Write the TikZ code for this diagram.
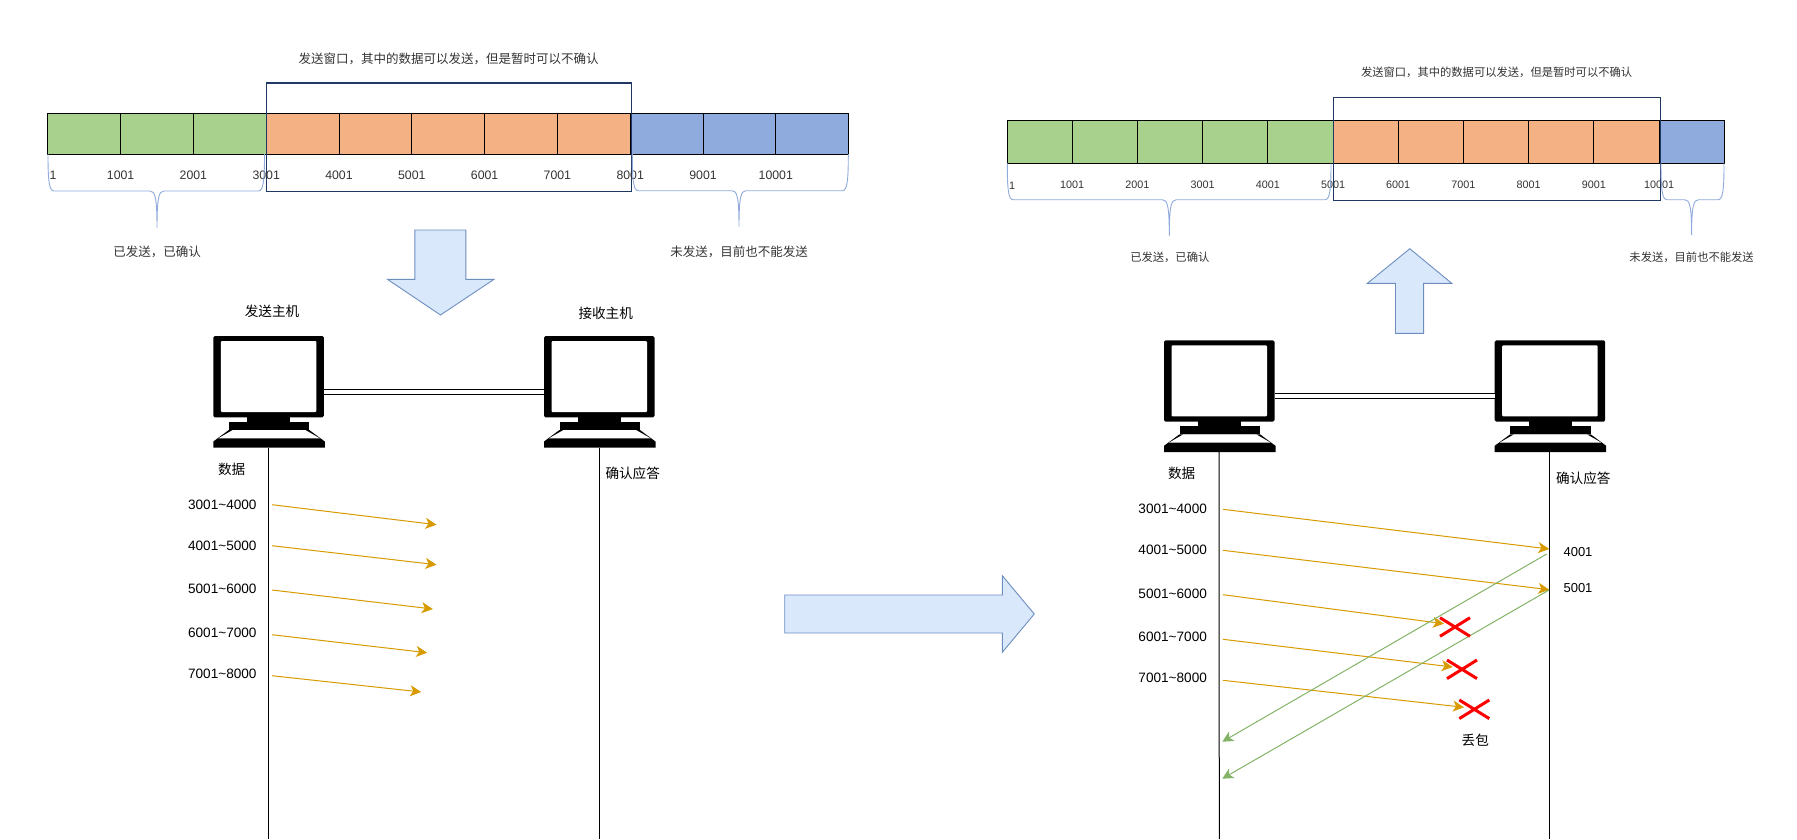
\documentclass[tikz,border=0pt]{standalone}
\usepackage{fontspec}
\setmainfont{Liberation Sans}
\newfontfamily\cjk{Noto Sans CJK SC}
\usetikzlibrary{arrows.meta}
\definecolor{gcell}{HTML}{A9D18E}
\definecolor{ocell}{HTML}{F4B183}
\definecolor{bcell}{HTML}{8FAADC}
\definecolor{winline}{HTML}{203864}
\definecolor{bline}{HTML}{8FAADC}
\definecolor{bigfill}{HTML}{DAE8FC}
\definecolor{bigline}{HTML}{6C8EBF}
\definecolor{sendline}{HTML}{D79B00}
\definecolor{ackline}{HTML}{82B366}
\definecolor{softtext}{HTML}{333333}
\newcommand{\fsz}[1]{\fontsize{#1}{#1}\selectfont}
\newcommand{\bracket}[6]{% x0 x1 xtip y0 y1 ytip
  \draw[bracestyle] (#1,#4) .. controls (#1,#4+26) and (#1+1,#5) .. (#1+6,#5)
    -- (#3-7,#5) .. controls (#3-2,#5) and (#3,#5+6) .. (#3,#6)
    .. controls (#3,#5+6) and (#3+2,#5) .. (#3+7,#5)
    -- (#2-6,#5) .. controls (#2-1,#5) and (#2,#4+26) .. (#2,#4);}
\tikzset{
  x=1pt,y=-1pt,
  cell/.style={draw=black,line width=0.9pt,anchor=north west,inner sep=0pt,outer sep=0pt},
  cellA/.style={cell,minimum width=72.8pt,minimum height=40.7pt},
  cellB/.style={cell,minimum width=65.2pt,minimum height=42.6pt},
  window/.style={draw=winline,line width=1.3pt,anchor=north west,inner sep=0pt},
  bracestyle/.style={draw=bline,line width=0.9pt},
  bigarrow/.style={draw=bigline,fill=bigfill,line width=0.9pt,line join=miter},
  numA/.style={text=softtext,font=\fsz{12.3},inner sep=0pt},
  numB/.style={text=softtext,font=\fsz{10.8},inner sep=0pt},
  capA/.style={text=softtext,font=\cjk\fsz{12.5},inner sep=0pt},
  capB/.style={text=softtext,font=\cjk\fsz{11.3},inner sep=0pt},
  lab/.style={text=black,font=\cjk\fsz{13.6},inner sep=0pt},
  seq/.style={text=black,font=\fsz{13.6},inner sep=0pt},
  life/.style={draw=black,line width=1pt},
  link/.style={draw=black,double=white,double distance=3.8pt,line width=1pt},
  send/.style={draw=sendline,line width=1pt,-{Stealth[length=11pt,width=11pt,inset=3pt]}},
  ack/.style={draw=ackline,line width=1pt,-{Stealth[length=11pt,width=11pt,inset=3pt]}},
  lost/.style={draw=red,line width=3pt},
  computer/.pic={
    \fill[black,rounded corners=1.5pt] (0,0) rectangle (110.5,81.3);
    \fill[white,rounded corners=1pt] (7.5,5) rectangle (103,76);
    \fill[black] (34,81) rectangle (77,86);
    \fill[black] (15.5,86) rectangle (96,94);
    \fill[black] (15.5,94) -- (96,94) -- (111.5,105.5) -- (111.5,111.7) -- (0,111.7) -- (0,105.5) -- cycle;
    \fill[white] (19.5,94) -- (92,94) -- (106.5,102.3) -- (5,102.3) -- cycle;
    \coordinate (-linkout) at (110.5,56);
    \coordinate (-linkin) at (0,56);
    \coordinate (-foot) at (55,111.7);
  }
}
\begin{document}
\begin{tikzpicture}
\useasboundingbox (0,0) rectangle (1797,839);
% ---------- left strip
\foreach \i/\c in {0/gcell,1/gcell,2/gcell,3/ocell,4/ocell,5/ocell,6/ocell,7/ocell,8/bcell,9/bcell,10/bcell}{
  \node[cellA,fill=\c] (a\i) at ({47.8+72.8*\i},113.3) {};
}
\node[window,minimum width=365pt,minimum height=108.6pt] (winA) at (265.7,82.2) {};
\node[capA] (titleA) at (448.5,58.7) {发送窗口，其中的数据可以发送，但是暂时可以不确认};
\node[numA] (na0) at (53,175.7) {1};
\foreach \i/\t in {1/1001,2/2001,3/3001,4/4001,5/5001,6/6001,7/7001,8/8001,9/9001,10/10001}{
  \node[numA] (na\i) at ({47.8+72.8*\i},175.7) {\t};
}
\bracket{48}{264.5}{157}{154}{191}{228}
\bracket{632.3}{848.3}{739}{154}{190.7}{226.7}
\node[capA] (doneA) at (157,251.7) {已发送，已确认};
\node[capA] (waitA) at (739,252) {未发送，目前也不能发送};
\draw[bigarrow] (414.9,230) -- (465.9,230) -- (465.9,279.3) -- (494,279.3) -- (440.5,315) -- (387.4,279.3) -- (414.9,279.3) -- cycle;
% ---------- left exchange
\node[lab] (hostA) at (272,311) {发送主机};
\node[lab] (hostB) at (605.7,313) {接收主机};
\pic (pcA) at (213.3,336) {computer};
\pic (pcB) at (544,336) {computer};
\draw[link] (pcA-linkout) -- (pcB-linkin);
\coordinate (endA) at (268.3,839);
\coordinate (endB) at (599,839);
\draw[life] (pcA-foot) -- (endA);
\draw[life] (pcB-foot) -- (endB);
\node[lab] (dataA) at (231.7,469) {数据};
\node[lab] (ackA) at (632.7,473) {确认应答};
\foreach \n/\t/\y/\ys/\xe/\ye in {1/3001\textasciitilde4000/504.5/504.7/436.5/524.7,
    2/4001\textasciitilde5000/545.5/545.7/436.5/564.7,
    3/5001\textasciitilde6000/588.5/590/432.8/609,
    4/6001\textasciitilde7000/632.5/634.7/427.2/652.7,
    5/7001\textasciitilde8000/674/675.7/421.2/692}{
  \node[seq] (sa\n) at (222.3,\y) {\t};
  \coordinate (fa\n) at (272,\ys);
  \coordinate (ta\n) at (\xe,\ye);
  \draw[send] (fa\n) -- (ta\n);
}
% ---------- right strip
\foreach \i/\c in {0/gcell,1/gcell,2/gcell,3/gcell,4/gcell,5/ocell,6/ocell,7/ocell,8/ocell,9/ocell,10/bcell}{
  \node[cellB,fill=\c] (b\i) at ({1007+65.2*\i},120.7) {};
}
\node[window,minimum width=327pt,minimum height=103pt] (winB) at (1332.7,97) {};
\node[capB] (titleB) at (1496.6,72) {发送窗口，其中的数据可以发送，但是暂时可以不确认};
\node[numB] (nb0) at (1012,185.5) {1};
\foreach \i/\t in {1/1001,2/2001,3/3001,4/4001,5/5001,6/6001,7/7001,8/8001,9/9001,10/10001}{
  \node[numB] (nb\i) at ({1007+65.2*\i},185) {\t};
}
\bracket{1007.3}{1331}{1169.3}{163.3}{199.7}{235.7}
\bracket{1661}{1724}{1691.6}{163.3}{199.7}{235}
\node[capB] (doneB) at (1169.8,257) {已发送，已确认};
\node[capB] (waitB) at (1691.6,257) {未发送，目前也不能发送};
\draw[bigarrow] (1409.8,248.7) -- (1451.7,283.3) -- (1423.6,283.3) -- (1423.6,333.3) -- (1395.5,333.3) -- (1395.5,283.3) -- (1367.4,283.3) -- cycle;
% ---------- middle arrow
\draw[bigarrow] (784.7,595) -- (1002.3,595) -- (1002.3,575.7) -- (1034.3,614) -- (1002.3,652.3) -- (1002.3,633) -- (784.7,633) -- cycle;
% ---------- right exchange
\pic (pcC) at (1164,340.3) {computer};
\pic (pcD) at (1494.7,340.3) {computer};
\draw[link] (pcC-linkout) -- (pcD-linkin);
\coordinate (endC) at (1219.3,839);
\coordinate (endD) at (1549.7,839);
\draw[life] (pcC-foot) -- (endC);
\draw[life] (pcD-foot) -- (endD);
\node[lab] (dataB) at (1181.7,473.3) {数据};
\node[lab] (ackB) at (1583.3,478) {确认应答};
\foreach \n/\t/\y/\ys/\xe/\ye in {1/3001\textasciitilde4000/508.5/509.3/1549.3/549,
    2/4001\textasciitilde5000/549.5/550.3/1549.3/589.7,
    3/5001\textasciitilde6000/593.5/594.7/1444/623.7,
    4/6001\textasciitilde7000/636.5/639.3/1452.7/667,
    5/7001\textasciitilde8000/677.5/680.3/1464/707.3}{
  \node[seq] (sb\n) at (1172.7,\y) {\t};
  \coordinate (fb\n) at (1223,\ys);
  \coordinate (tb\n) at (\xe,\ye);
  \draw[send] (fb\n) -- (tb\n);
}
\coordinate (ackfa) at (1546.7,554);
\coordinate (ackta) at (1222.3,741.7);
\coordinate (ackfb) at (1549,590);
\coordinate (acktb) at (1222.3,778.7);
\draw[ack] (ackfa) -- (ackta);
\draw[ack] (ackfb) -- (acktb);
\node[seq,font=\fsz{13}] (n4001) at (1578,552.5) {4001};
\node[seq,font=\fsz{13}] (n5001) at (1578,588.5) {5001};
\foreach \x/\y in {1455/627,1462/669.3,1474.3/709.3}{
  \draw[lost] (\x-15,\y-9.3) -- (\x+15,\y+9.3) (\x-15,\y+9.3) -- (\x+15,\y-9.3);
}
\node[lab] (drop) at (1475.3,740) {丢包};
\end{tikzpicture}
\end{document}
